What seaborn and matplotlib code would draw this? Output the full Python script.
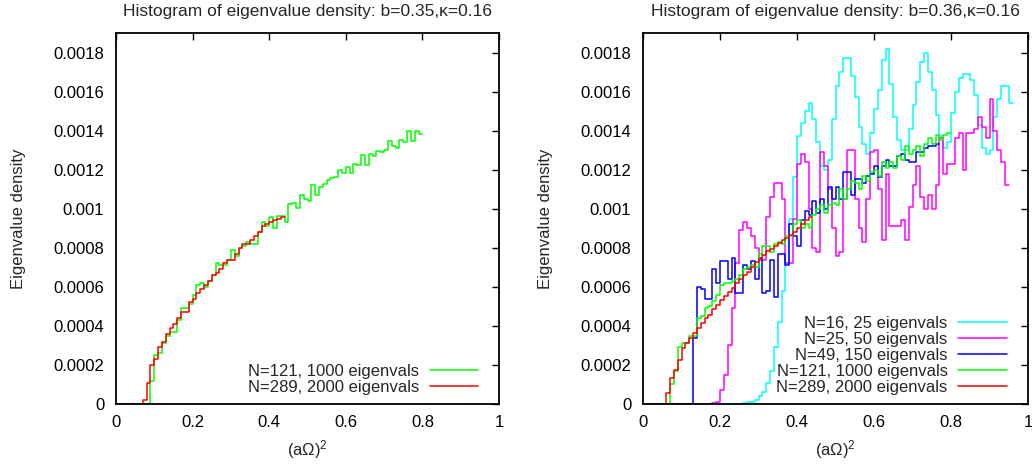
import numpy as np
import pandas as pd
import matplotlib
matplotlib.use("Agg")
import matplotlib.pyplot as plt
import seaborn as sns

BIN = 0.01

# ---- left panel: b=0.35, kappa=0.16 ----
left_title = "Histogram of eigenvalue density: b=0.35,\u03ba=0.16"
left_green_start = 0.09
left_green = [0.00012, 0.00025, 0.00026, 0.00031, 0.00035, 0.00037, 0.00037, 0.00043,
              0.00049, 0.00049, 0.00051, 0.00056, 0.00061, 0.00062, 0.00060, 0.00063,
              0.00066, 0.00072, 0.00071, 0.00071, 0.00074, 0.00079, 0.00076, 0.00080,
              0.00081, 0.00083, 0.00082, 0.00082, 0.00088, 0.00093, 0.00091,
              0.000957, 0.000901, 0.000962, 0.000962, 0.00093, 0.001026, 0.001029, 0.001003,
              0.001072, 0.00105, 0.001038, 0.001123, 0.001068, 0.001111, 0.001128, 0.001145,
              0.001157, 0.00116, 0.001197, 0.001183, 0.001212, 0.001183, 0.001229, 0.001226,
              0.001277, 0.001226, 0.001282, 0.001268, 0.001294, 0.00129, 0.001303, 0.001345,
              0.00132, 0.001311, 0.00135, 0.00134, 0.001397, 0.001345, 0.0014, 0.001383]
left_red_start = 0.07
left_red = [0.00002, 0.00011, 0.00020, 0.00023, 0.00029, 0.00032, 0.00036, 0.00039,
            0.00041, 0.00044, 0.00047, 0.00047, 0.00052, 0.00054, 0.00057, 0.00059,
            0.00061, 0.00063, 0.00066, 0.00067, 0.00069, 0.00072, 0.00074, 0.00074,
            0.00077, 0.00080, 0.00082, 0.00082, 0.00084, 0.00086, 0.00088, 0.00091,
            0.00092, 0.00093, 0.00094, 0.00095, 0.00096]

# ---- right panel: b=0.36, kappa=0.16 ----
right_title = "Histogram of eigenvalue density: b=0.36,\u03ba=0.16"
cyan_start = 0.26
cyan = [0.000005, 0.00001, 0.00001, 0.00002, 0.00004, 0.00006, 0.00011, 0.00017,
        0.00029, 0.00042, 0.00058, 0.00072,
        0.00095, 0.00116, 0.00137, 0.00144, 0.00150, 0.00154, 0.00146, 0.00134,
        0.00122, 0.00120, 0.00125, 0.00146, 0.00163, 0.00170, 0.00177, 0.00177,
        0.00168, 0.00157, 0.00142, 0.00133, 0.00128, 0.00139, 0.00151, 0.00161,
        0.00176, 0.00182, 0.00164, 0.00147, 0.00135, 0.00130, 0.00130, 0.00141,
        0.00153, 0.00165, 0.00175, 0.00180, 0.00170, 0.00161, 0.00148, 0.00137,
        0.00131, 0.00134, 0.00149, 0.00160, 0.00167, 0.00169, 0.00169, 0.00166,
        0.00158, 0.00143, 0.00131, 0.00128, 0.00130, 0.00147, 0.00156, 0.00163,
        0.00163, 0.00154]
magenta_start = 0.18
magenta = [0.000005, 0.00001, 0.00007, 0.00015, 0.00030, 0.00049, 0.00072, 0.00089,
           0.00093, 0.00090, 0.00086, 0.00080, 0.00074, 0.00074, 0.00096, 0.00106,
           0.00113, 0.00113, 0.00105, 0.00072, 0.00072, 0.00095, 0.00123, 0.00128,
           0.00124, 0.00100, 0.00080, 0.00078, 0.00129, 0.00122, 0.00110, 0.00090,
           0.00076, 0.00078, 0.00105, 0.00130, 0.00130, 0.00105, 0.00090, 0.00083,
           0.00105, 0.00129, 0.00130, 0.00110, 0.00084, 0.00118,
           0.00091, 0.00091, 0.00091, 0.00094, 0.00084, 0.00101, 0.00112, 0.00122,
           0.00106, 0.00100, 0.00107, 0.00100, 0.00112, 0.00136, 0.00118, 0.00123,
           0.00123, 0.00136, 0.00139, 0.00120, 0.00139, 0.00139, 0.00141, 0.00147,
           0.00142, 0.00136, 0.00156, 0.00140, 0.00130, 0.00124, 0.00112]
blue_start = 0.13
blue = [0.00034, 0.00060, 0.00059, 0.00054, 0.00054, 0.00069, 0.00062, 0.00073,
        0.00073, 0.00064, 0.00075, 0.00057, 0.00057, 0.00071, 0.00069, 0.00073,
        0.00064, 0.00075, 0.00057, 0.00058, 0.00074, 0.00055, 0.00077, 0.00077,
        0.00071, 0.00092, 0.00086, 0.00081, 0.00094, 0.00099, 0.00097, 0.00104,
        0.00098, 0.00105, 0.00100, 0.00111, 0.00105, 0.00111, 0.00105, 0.00119,
        0.00119, 0.00107, 0.00115, 0.00115, 0.00113, 0.00117, 0.00118, 0.00122,
        0.00116, 0.00122, 0.00125, 0.00122, 0.00122, 0.00127, 0.00128, 0.00125,
        0.00124, 0.00124, 0.00129, 0.00129, 0.00131, 0.00132, 0.00132, 0.00133]
green_start = 0.07
green = [0.00010, 0.00017, 0.00029, 0.00031, 0.00031, 0.00035, 0.00035, 0.00044,
         0.00045, 0.00049, 0.00050, 0.00053, 0.00056, 0.00061, 0.00062, 0.00062,
         0.00063, 0.00064, 0.00066, 0.00069, 0.00070, 0.00071, 0.00070, 0.00077,
         0.00081, 0.00081, 0.00078, 0.00082, 0.00083, 0.00082, 0.00086, 0.00086,
         0.00092, 0.00094, 0.00090, 0.00092, 0.00090, 0.00097, 0.00100, 0.00102,
         0.00098, 0.00102, 0.00103, 0.00102, 0.00110, 0.00105, 0.00110, 0.00114,
         0.00113, 0.00110, 0.00117, 0.00114, 0.00119, 0.00120, 0.00117, 0.00124,
         0.00121, 0.00124, 0.00121, 0.00127, 0.00125, 0.00132, 0.00128, 0.00130,
         0.00132, 0.00127, 0.00133, 0.00136, 0.00133, 0.00138, 0.00135, 0.00138,
         0.00139]
red_start = 0.06
red = [0.000055, 0.000132, 0.000174, 0.000226, 0.000285, 0.000311, 0.000337, 0.000362,
       0.000388, 0.000414, 0.000439, 0.000456, 0.000485, 0.000508, 0.000533, 0.000554,
       0.000576, 0.000593, 0.000619, 0.000639, 0.000661, 0.000678, 0.000704, 0.000725,
       0.000742, 0.000764, 0.000781, 0.000793, 0.00081, 0.000824, 0.000841, 0.000849,
       0.000866, 0.00088, 0.00090, 0.00092, 0.00094, 0.00096]

labels = {"cyan": "N=16, 25 eigenvals", "magenta": "N=25, 50 eigenvals",
          "blue": "N=49, 150 eigenvals", "green": "N=121, 1000 eigenvals",
          "red": "N=289, 2000 eigenvals"}

xticks = [0, 0.2, 0.4, 0.6, 0.8, 1]
xticklabels = ["0", "0.2", "0.4", "0.6", "0.8", "1"]
yticks = [0, 0.0002, 0.0004, 0.0006, 0.0008, 0.001, 0.0012, 0.0014, 0.0016, 0.0018]
yticklabels = ["0", "0.0002", "0.0004", "0.0006", "0.0008", "0.001",
               "0.0012", "0.0014", "0.0016", "0.0018"]

FS = 12

sns.set_theme(style="white")
plt.rcParams["font.family"] = ["Liberation Sans", "DejaVu Sans"]
plt.rcParams["mathtext.fontset"] = "custom"
plt.rcParams["mathtext.rm"] = "Liberation Sans"
plt.rcParams["mathtext.it"] = "Liberation Sans"


def draw_hist(ax, start, vals, color, label):
    # one weighted sample per bin centre; empty bins from 0 up to start stay at zero
    df = pd.DataFrame({"x": start + BIN * (np.arange(len(vals)) + 0.5), "w": vals})
    nbins = int(round((start + BIN * len(vals)) / BIN))
    sns.histplot(data=df, x="x", weights="w", binwidth=BIN, binrange=(0, nbins * BIN),
                 element="step", fill=False, color=color, linewidth=1.1,
                 label=label, ax=ax)


def style_axes(ax, title):
    ax.set_xlim(0, 1)
    ax.set_ylim(0, 0.0019)
    ax.set_xticks(xticks)
    ax.set_xticklabels(xticklabels)
    ax.set_yticks(yticks)
    ax.set_yticklabels(yticklabels)
    ax.tick_params(direction="in", length=5.3, width=1, top=True, right=True,
                   labelsize=FS, colors="black")
    ax.tick_params(axis="x", pad=8)
    ax.tick_params(axis="y", pad=8.5)
    for sp in ax.spines.values():
        sp.set_color("black")
        sp.set_linewidth(1.3)
    ax.set_title(title, fontsize=12.5, pad=12)
    ax.set_xlabel("(a\u03a9)$^2$", fontsize=FS, labelpad=6)
    ax.set_ylabel("Eigenvalue density", fontsize=FS, labelpad=20)
    ax.legend(loc="lower right", bbox_to_anchor=(0.945, 0.024), frameon=False,
              markerfirst=False, fontsize=FS, handlelength=2.9, handletextpad=0.65,
              labelspacing=0.06, borderpad=0, borderaxespad=0)


fig = plt.figure(figsize=(10.32, 4.66), dpi=100)
ax1 = fig.add_axes([116 / 1032, 1 - 404 / 466, 383 / 1032, 371 / 466])
ax2 = fig.add_axes([643 / 1032, 1 - 404 / 466, 385 / 1032, 371 / 466])

draw_hist(ax1, left_green_start, left_green, "#00ff00", labels["green"])
draw_hist(ax1, left_red_start, left_red, "#ff0000", labels["red"])
style_axes(ax1, left_title)

draw_hist(ax2, cyan_start, cyan, "#00ffff", labels["cyan"])
draw_hist(ax2, magenta_start, magenta, "#ff00ff", labels["magenta"])
draw_hist(ax2, blue_start, blue, "#0000ff", labels["blue"])
draw_hist(ax2, green_start, green, "#00ff00", labels["green"])
draw_hist(ax2, red_start, red, "#ff0000", labels["red"])
style_axes(ax2, right_title)

fig.savefig("out.png", dpi=100)
